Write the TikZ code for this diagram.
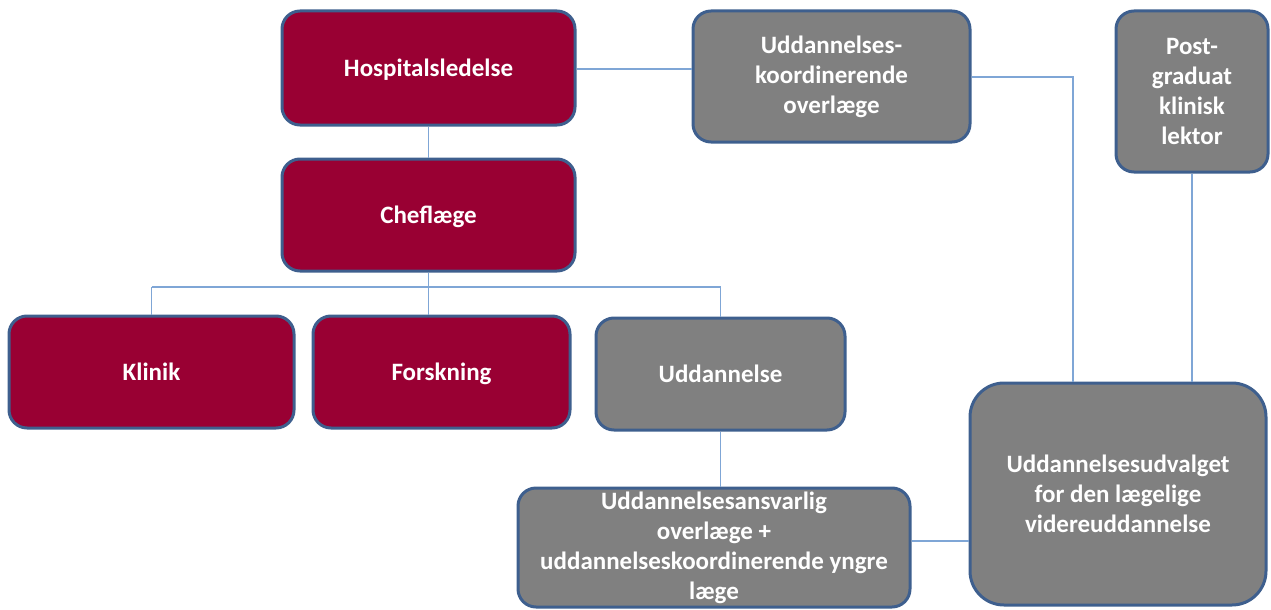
\documentclass[tikz,border=0pt]{standalone}
\usepackage{fontspec}
\setmainfont{Carlito}
\definecolor{crim}{HTML}{990033}
\definecolor{gry}{HTML}{808080}
\definecolor{bord}{HTML}{3E5F8E}
\definecolor{conn}{HTML}{7FA6D6}
\tikzset{
  box/.style={draw=bord, line width=3pt, rounded corners=18pt, inner sep=0pt,
    align=center, text=white, font=\bfseries\fontsize{25}{30}\selectfont},
  oneline/.style={text height=16pt, text depth=0pt},
  redbox/.style={box, fill=crim, oneline},
  greybox/.style={box, fill=gry},
  link/.style={draw=conn, line width=1.5pt}
}
\begin{document}
\begin{tikzpicture}[x=1pt,y=-1pt]
\useasboundingbox (0,0) rectangle (1271,610);
\node[redbox, minimum width=293pt, minimum height=114pt] (hosp) at (428.5,68) {Hospitalsledelse};
\node[redbox, minimum width=293pt, minimum height=112pt] (chef) at (428.5,215) {Cheflæge};
\node[redbox, minimum width=285pt, minimum height=112pt] (klin) at (151.5,372) {Klinik};
\node[redbox, minimum width=257pt, minimum height=112pt] (forsk) at (441.5,372) {Forskning};
\node[greybox, oneline, minimum width=249pt, minimum height=112pt] (udd) at (720.5,374) {Uddannelse};
\node[greybox, minimum width=277pt, minimum height=131pt] (koord) at (831.5,76.5) {Uddannelses-\\koordinerende\\overlæge};
\node[greybox, minimum width=152pt, minimum height=161pt] (post) at (1192,91.5) {Post-\\graduat\\klinisk\\lektor};
\node[greybox, rounded corners=34pt, minimum width=296pt, minimum height=222pt] (udv) at (1118,494) {Uddannelsesudvalget\\for den lægelige\\videreuddannelse};
\node[greybox, minimum width=392pt, minimum height=119pt] (ansv) at (714,547.5) {Uddannelsesansvarlig\\overlæge +\\uddannelseskoordinerende yngre\\læge};
% helper coordinates
\coordinate (hy) at (600,69);
\coordinate (kt) at (151.5,287);
\coordinate (ut) at (720.5,287);
\coordinate (kx) at (1073,77);
\coordinate (ay) at (940,541);
\draw[link] (hosp.east |- hy) -- (koord.west |- hy);
\draw[link] (hosp.south) -- (chef.north);
\draw[link] (chef.south) -- (forsk.north -| chef.south);
\draw[link] (kt) -- (ut);
\draw[link] (kt) -- (klin.north);
\draw[link] (ut) -- (udd.north -| ut);
\draw[link] (udd.south) -- (ansv.north -| udd.south);
\draw[link] (ansv.east |- ay) -- (udv.west |- ay);
\draw[link] (koord.east |- kx) -- (kx) -- (udv.north -| kx);
\draw[link] (post.south) -- (udv.north -| post.south);
\end{tikzpicture}
\end{document}
